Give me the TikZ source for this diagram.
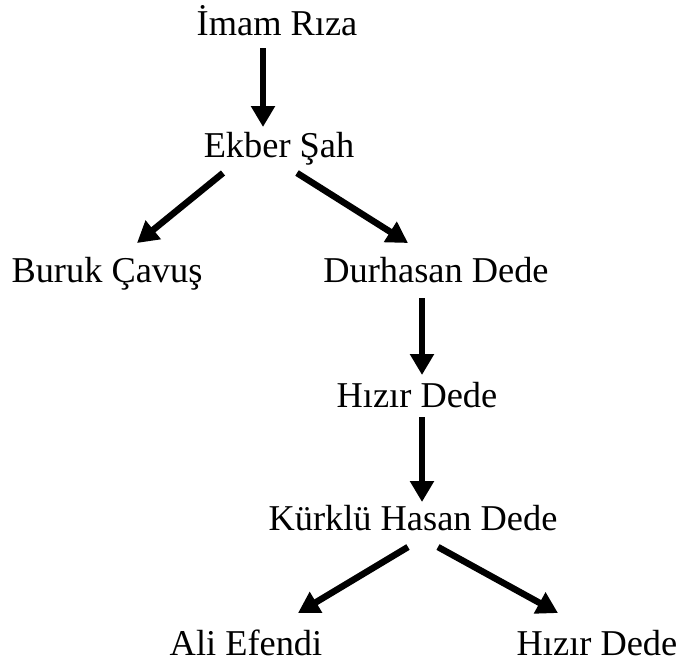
\documentclass[tikz,border=0pt]{standalone}
\usepackage{fontspec}
\setmainfont{Liberation Serif}
\usepackage{tikz}
\usetikzlibrary{arrows.meta}

\begin{document}
\begin{tikzpicture}[x=0.02cm,y=-0.02cm,
    arr/.style={-{Triangle[length=0.42cm,width=0.46cm]},line width=0.13cm}]
\useasboundingbox (0,0) rectangle (682,664);
\begin{scope}[every node/.style={anchor=base,inner sep=0pt,font=\fontsize{20.7}{24}\selectfont}]
    \node (imam) at (277,35) {İmam Rıza};
    \node (ekber) at (279,157) {Ekber Şah};
    \node (buruk) at (107,282) {Buruk Çavuş};
    \node (durhasan) at (436,282) {Durhasan Dede};
    \node (hizir) at (417,407) {Hızır Dede};
    \node (kurklu) at (413,530) {Kürklü Hasan Dede};
    \node (ali) at (246,655) {Ali Efendi};
    \node (hizirb) at (597,655) {Hızır Dede};

    % arrow ends
    \coordinate (imam-s) at (263,48);
    \coordinate (ekber-n) at (263,127);
    \coordinate (ekber-sw) at (223,173);
    \coordinate (ekber-se) at (297,173);
    \coordinate (buruk-n) at (137,243);
    \coordinate (durhasan-n) at (408,243);
    \coordinate (durhasan-s) at (422,298);
    \coordinate (hizir-n) at (422,375);
    \coordinate (hizir-s) at (422,417);
    \coordinate (kurklu-n) at (422,502);
    \coordinate (kurklu-sw) at (408,547);
    \coordinate (kurklu-se) at (438,547);
    \coordinate (ali-n) at (298,613);
    \coordinate (hizirb-n) at (558,613);

    \path [arr] (imam-s) edge (ekber-n);
    \path [arr] (ekber-sw) edge (buruk-n);
    \path [arr] (ekber-se) edge (durhasan-n);
    \path [arr] (durhasan-s) edge (hizir-n);
    \path [arr] (hizir-s) edge (kurklu-n);
    \path [arr] (kurklu-sw) edge (ali-n);
    \path [arr] (kurklu-se) edge (hizirb-n);
\end{scope}
\end{tikzpicture}
\end{document}
